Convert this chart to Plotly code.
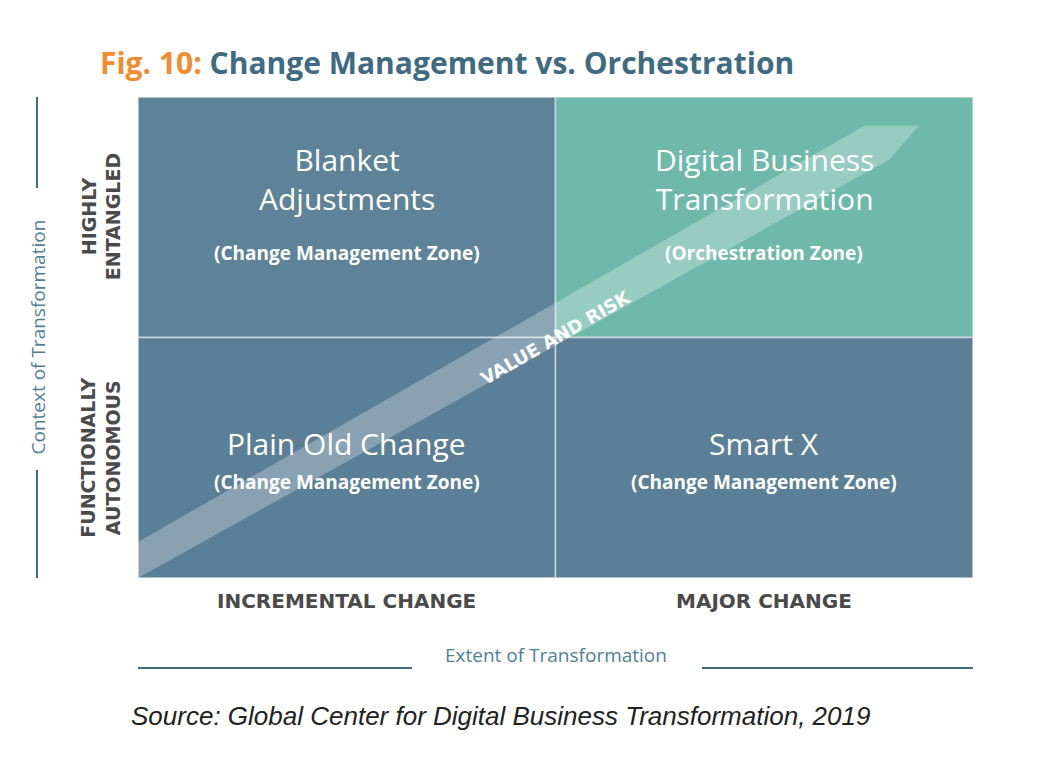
import plotly.graph_objects as go

# quadrants: grid column/row, fill colour
quad_names = ["Blanket<br>Adjustments", "Digital Business<br>Transformation", "Plain Old Change", "Smart X"]
quad_zones = ["(Change Management Zone)", "(Orchestration Zone)", "(Change Management Zone)", "(Change Management Zone)"]
quad_col = [0, 1, 0, 1]
quad_row = [1, 1, 0, 0]
quad_colors = ["#5e8399", "#6fb9aa", "#5a7f96", "#5a7f96"]
x_labels = ["INCREMENTAL CHANGE", "MAJOR CHANGE"]
y_labels = ["FUNCTIONALLY<br>AUTONOMOUS", "HIGHLY<br>ENTANGLED"]
arrow_x = [0, 1.80, 1.87, 1.74, 0]
arrow_y = [0, 1.74, 1.88, 1.88, 0.15]

W, H = 1049, 770
OFF = 8  # page offset seen in render
L, R, T, B = 138 - OFF, 973 - OFF, 97 - OFF, 578 - OFF


def px(x):
    return (x - OFF - L) / (R - L)


def py(y):
    return (B - (y - OFF)) / (B - T)


fig = go.Figure()
for i, name in enumerate(quad_names):
    c, r = quad_col[i], quad_row[i]
    fig.add_shape(type="rect", x0=c, x1=c + 1, y0=r, y1=r + 1,
                  fillcolor=quad_colors[i], line=dict(color="#c9d6dd", width=1.5), layer="below")
    fig.add_annotation(x=c + 0.5, y=r + (0.66 if r else 0.56), text=name, showarrow=False,
                       font=dict(family="Open Sans", size=30, color="white"), yanchor="middle")
    fig.add_annotation(x=c + 0.5, y=r + (0.35 if r else 0.40), text="<b>" + quad_zones[i] + "</b>",
                       showarrow=False, font=dict(family="Open Sans", size=19, color="white"))

fig.add_trace(go.Scatter(x=arrow_x, y=arrow_y, fill="toself", mode="none",
                         fillcolor="rgba(255,255,255,0.28)", hoverinfo="skip"))
fig.add_annotation(x=1.0, y=1.0, text="<b>VALUE AND RISK</b>", showarrow=False, textangle=-30,
                   font=dict(family="DejaVu Sans", size=18, color="white"))

# title
fig.add_annotation(xref="paper", yref="paper", x=px(98), y=py(40), xanchor="left", showarrow=False,
                   text="<b><span style='color:#f28c2e'>Fig. 10:</span> Change Management vs. Orchestration</b>",
                   font=dict(family="Open Sans", size=30, color="#3f6b80"))

# axis labels
for i, t in enumerate(x_labels):
    fig.add_annotation(xref="x", yref="paper", x=i + 0.5, y=py(615), text="<b>" + t + "</b>",
                       showarrow=False, font=dict(family="DejaVu Sans", size=20, color="#4a4a4a"))
for i, t in enumerate(y_labels):
    fig.add_annotation(xref="paper", yref="y", x=px(101), y=i + 0.5, text="<b>" + t + "</b>", textangle=-90,
                       xanchor="center", showarrow=False,
                       font=dict(family="DejaVu Sans", size=19, color="#4a4a4a"))

fig.add_annotation(xref="paper", yref="paper", x=0.5, y=py(670), text="Extent of Transformation",
                   showarrow=False, font=dict(family="Open Sans", size=19, color="#4f7f95"))
fig.add_annotation(xref="paper", yref="paper", x=px(37), y=0.5, text="Context of Transformation",
                   textangle=-90, xanchor="center", showarrow=False,
                   font=dict(family="Open Sans", size=19, color="#4f7f95"))
line = dict(color="#3f6b80", width=2)
fig.add_shape(type="line", xref="paper", yref="paper", x0=0, x1=px(412), y0=py(668), y1=py(668), line=line)
fig.add_shape(type="line", xref="paper", yref="paper", x0=px(702), x1=1, y0=py(668), y1=py(668), line=line)
fig.add_shape(type="line", xref="paper", yref="paper", x0=px(37), x1=px(37), y0=1, y1=py(188), line=line)
fig.add_shape(type="line", xref="paper", yref="paper", x0=px(37), x1=px(37), y0=py(470), y1=0, line=line)

fig.add_annotation(xref="paper", yref="paper", x=px(500), y=py(733),
                   text="<i>Source: Global Center for Digital Business Transformation, 2019</i>",
                   showarrow=False, font=dict(family="Liberation Sans", size=26, color="#222"))

fig.update_xaxes(range=[0, 2], visible=False, fixedrange=True)
fig.update_yaxes(range=[0, 2], visible=False, fixedrange=True)
fig.update_layout(width=W - 2 * OFF, height=H - 2 * OFF, margin=dict(l=L, r=W - 2 * OFF - R, t=T, b=H - 2 * OFF - B),
                  plot_bgcolor="white", paper_bgcolor="white", showlegend=False)
fig.write_html("out.html")
